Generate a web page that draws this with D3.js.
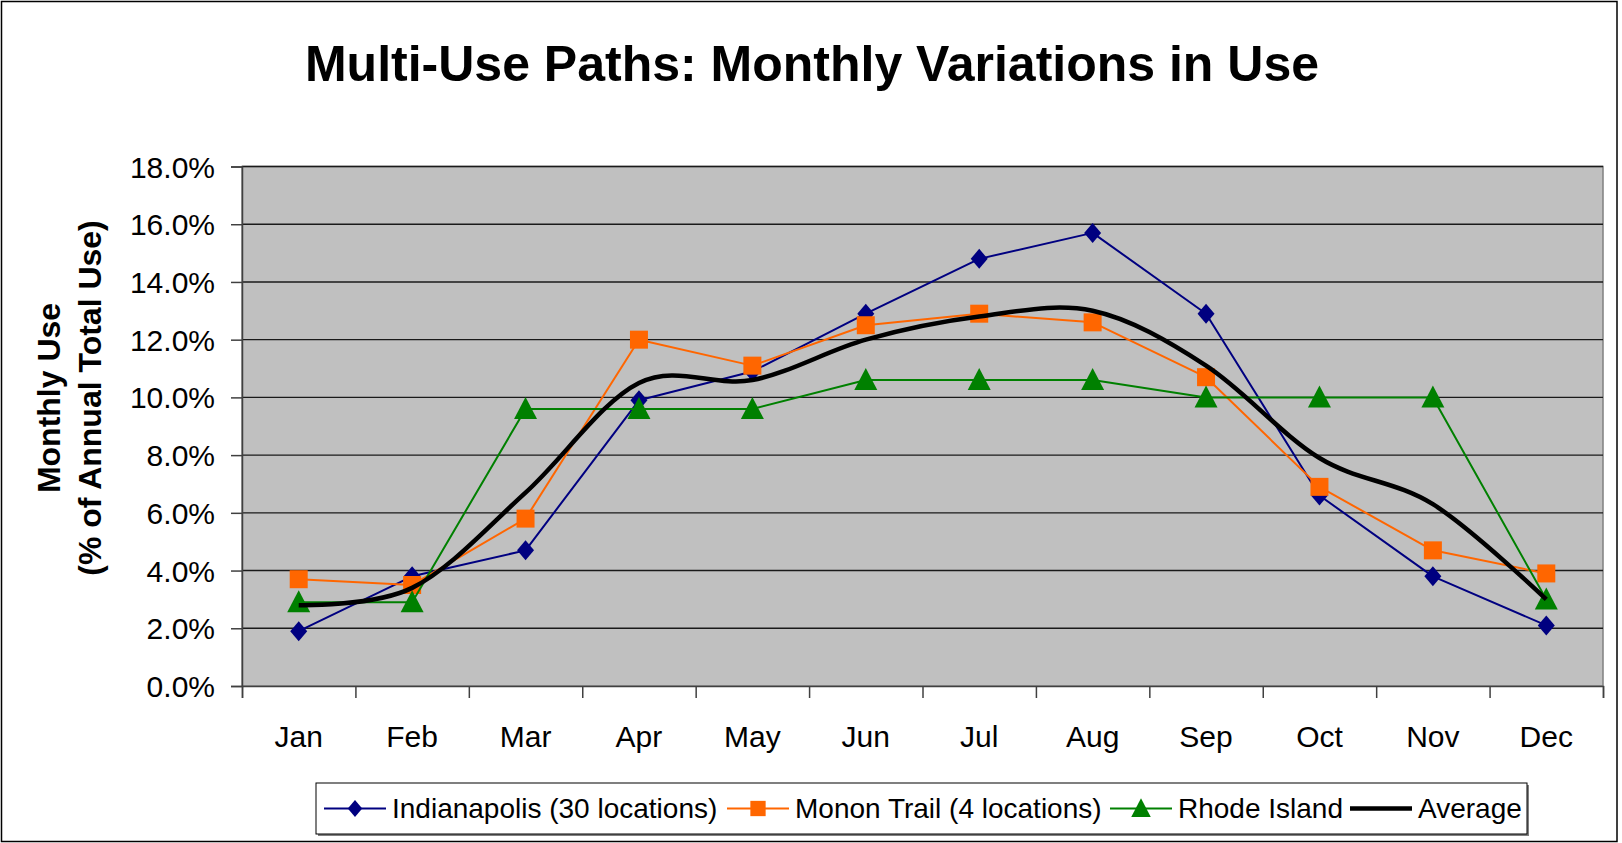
<!DOCTYPE html>
<html lang="en">
<head>
    <meta charset="UTF-8">
    <title>Multi-Use Paths: Monthly Variations in Use</title>
    <script src="https://d3js.org/d3.v7.min.js"></script>
    <style>
        body {
            margin: 0;
            background: #fff;
            font-family: "Liberation Sans", Arial, sans-serif;
        }
        svg { display: block; }
    </style>
</head>
<body>
    <svg width="1622" height="843"></svg>

    <script>
        // values (percent of annual total use)
        const months = ["Jan", "Feb", "Mar", "Apr", "May", "Jun", "Jul", "Aug", "Sep", "Oct", "Nov", "Dec"];
        const indianapolis = [1.9, 3.8, 4.7, 9.9, 10.9, 12.9, 14.8, 15.7, 12.9, 6.6, 3.8, 2.1];
        const mononTrail = [3.7, 3.5, 5.8, 12.0, 11.1, 12.5, 12.9, 12.6, 10.7, 6.9, 4.7, 3.9];
        const rhodeIsland = [2.9, 2.9, 9.6, 9.6, 9.6, 10.6, 10.6, 10.6, 10.0, 10.0, 10.0, 3.0];
        const average = [2.8, 3.4, 6.7, 10.5, 10.6, 12.0, 12.8, 13.0, 11.1, 7.9, 6.3, 3.0];
        const yTicks = [0, 2, 4, 6, 8, 10, 12, 14, 16, 18];

        const series = [
            { name: "Indianapolis (30 locations)", values: indianapolis, color: "#000080", marker: "diamond", width: 2 },
            { name: "Monon Trail (4 locations)", values: mononTrail, color: "#FF6600", marker: "square", width: 2 },
            { name: "Rhode Island", values: rhodeIsland, color: "#008000", marker: "triangle", width: 2 },
            { name: "Average", values: average, color: "#000000", marker: null, width: 4.5, smooth: true }
        ];

        const svg = d3.select("svg"),
            width = +svg.attr("width"),
            height = +svg.attr("height");

        const plot = { left: 242, right: 1603, top: 166.5, bottom: 686 };

        // outer chart border
        svg.append("rect")
            .attr("x", 1.5).attr("y", 1.5)
            .attr("width", 1615.5).attr("height", height - 3)
            .attr("fill", "#fff")
            .attr("stroke", "#000")
            .attr("stroke-width", 1.5);

        svg.append("text")
            .attr("x", 812)
            .attr("y", 81)
            .attr("text-anchor", "middle")
            .attr("font-size", "50px")
            .attr("font-weight", "bold")
            .text("Multi-Use Paths: Monthly Variations in Use");

        const x = d3.scaleBand()
            .domain(months)
            .range([plot.left, plot.right]);

        const xEdges = d3.scaleLinear()
            .domain([0, months.length])
            .range([plot.left, plot.right]);

        const y = d3.scaleLinear()
            .domain([0, 18])
            .range([plot.bottom, plot.top]);

        // plot area
        svg.append("rect")
            .attr("x", plot.left).attr("y", plot.top)
            .attr("width", plot.right - plot.left)
            .attr("height", plot.bottom - plot.top)
            .attr("fill", "#C0C0C0")
            .attr("stroke", "#808080")
            .attr("stroke-width", 1.5);

        // gridlines
        svg.append("g")
            .selectAll("line")
            .data(yTicks.filter(d => d > 0))
            .enter().append("line")
            .attr("x1", plot.left).attr("x2", plot.right)
            .attr("y1", d => y(d)).attr("y2", d => y(d))
            .attr("stroke", "#1a1a1a")
            .attr("stroke-width", 1.4);

        // y axis
        const yAxis = svg.append("g")
            .attr("transform", `translate(${plot.left},0)`)
            .call(d3.axisLeft(y).tickValues(yTicks).tickSize(11).tickPadding(16)
                .tickFormat(d => d.toFixed(1) + "%"));
        yAxis.select(".domain").attr("stroke", "#404040").attr("stroke-width", 1.5);
        yAxis.selectAll(".tick line").attr("stroke", "#404040").attr("stroke-width", 1.5);
        yAxis.selectAll("text")
            .attr("font-family", "Liberation Sans, Arial, sans-serif")
            .attr("font-size", "30px")
            .attr("fill", "#000")
            .attr("dy", "0.35em");

        // x axis: tick marks at category edges, labels centred on bands
        const xTickAxis = svg.append("g")
            .attr("transform", `translate(0,${plot.bottom})`)
            .call(d3.axisBottom(xEdges).ticks(months.length).tickSize(12).tickFormat(""));
        xTickAxis.select(".domain").attr("stroke", "#404040").attr("stroke-width", 1.5);
        xTickAxis.selectAll(".tick line").attr("stroke", "#404040").attr("stroke-width", 1.5);

        const xLabelAxis = svg.append("g")
            .attr("transform", `translate(0,${plot.bottom})`)
            .call(d3.axisBottom(x).tickSize(0).tickPadding(40));
        xLabelAxis.select(".domain").remove();
        xLabelAxis.selectAll("text")
            .attr("font-family", "Liberation Sans, Arial, sans-serif")
            .attr("font-size", "30px")
            .attr("fill", "#000");

        // y axis title
        const yTitle = svg.append("text")
            .attr("transform", "translate(70,398) rotate(-90)")
            .attr("text-anchor", "middle")
            .attr("font-size", "32px")
            .attr("font-weight", "bold");
        yTitle.append("tspan").attr("x", 0).attr("dy", "-0.3em").text("Monthly Use");
        yTitle.append("tspan").attr("x", 0).attr("dy", "1.27em").text("(% of Annual Total Use)");

        // markers
        function markerPath(type) {
            if (type === "diamond") return "M0,-10L8.5,0L0,10L-8.5,0Z";
            if (type === "square") return "M-9,-9H9V9H-9Z";
            if (type === "triangle") return "M0,-12L11.5,10H-11.5Z";
            return null;
        }

        const xc = m => x(m) + x.bandwidth() / 2;

        series.forEach(s => {
            const pts = months.map((m, i) => [xc(m), y(s.values[i])]);
            const line = d3.line().curve(s.smooth ? d3.curveCatmullRom.alpha(0) : d3.curveLinear);
            const g = svg.append("g");
            g.append("path")
                .attr("d", line(pts))
                .attr("fill", "none")
                .attr("stroke", s.color)
                .attr("stroke-width", s.width)
                .attr("stroke-linejoin", "round");
            if (s.marker) {
                g.selectAll("path.mk")
                    .data(pts)
                    .enter().append("path")
                    .attr("class", "mk")
                    .attr("d", markerPath(s.marker))
                    .attr("transform", d => `translate(${d[0]},${d[1]})`)
                    .attr("fill", s.color);
            }
        });

        // legend
        const legend = { x: 316, y: 783, w: 1211, h: 51 };
        svg.append("rect")
            .attr("x", legend.x + 2).attr("y", legend.y + 2)
            .attr("width", legend.w).attr("height", legend.h)
            .attr("fill", "#808080");
        svg.append("rect")
            .attr("x", legend.x).attr("y", legend.y)
            .attr("width", legend.w).attr("height", legend.h)
            .attr("fill", "#fff")
            .attr("stroke", "#000")
            .attr("stroke-width", 1);

        const legendX = [324, 727, 1110, 1350];
        const legendY = legend.y + legend.h / 2;
        series.forEach((s, i) => {
            const g = svg.append("g").attr("transform", `translate(${legendX[i]},${legendY})`);
            g.append("line")
                .attr("x1", 0).attr("x2", 62)
                .attr("stroke", s.color)
                .attr("stroke-width", s.width);
            if (s.marker) {
                g.append("path")
                    .attr("d", markerPath(s.marker))
                    .attr("transform", "translate(31,0) scale(0.85)")
                    .attr("fill", s.color);
            }
            g.append("text")
                .attr("x", 68)
                .attr("dy", "0.35em")
                .attr("font-size", "28px")
                .text(s.name);
        });
    </script>
</body>
</html>
